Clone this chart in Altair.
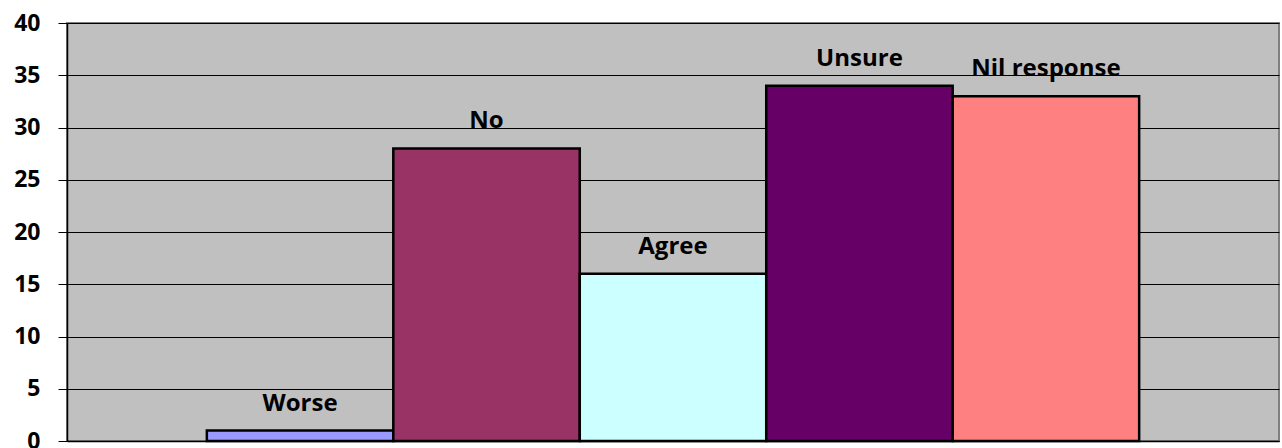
import altair as alt
import pandas as pd

categories = ["Worse", "No", "Agree", "Unsure", "Nil response"]
values = [1, 28, 16, 34, 33]
colors = ["#9999FF", "#993366", "#CCFFFF", "#660066", "#FF8080"]
y_ticks = [0, 5, 10, 15, 20, 25, 30, 35, 40]

df = pd.DataFrame({"cat": categories, "val": values})

FONT = "Open Sans"

x = alt.X("cat:N", sort=categories,
          scale=alt.Scale(paddingInner=0, paddingOuter=0.75),
          axis=alt.Axis(labels=False, ticks=False, title=None, domain=True,
                        domainColor="#000000", domainWidth=1.5, grid=False))
y = alt.Y("val:Q", scale=alt.Scale(domain=[0, 40], nice=False),
          axis=alt.Axis(values=y_ticks, title=None, grid=True, gridColor="#000000",
                        gridWidth=1, gridOpacity=1, domain=True, domainColor="#000000",
                        domainWidth=1.5, ticks=True, tickSize=9, tickColor="#000000",
                        tickWidth=1, labelPadding=18, labelFont=FONT, labelFontSize=23,
                        labelFontWeight="bold", labelColor="#000000"))

bars = alt.Chart(df).mark_bar(stroke="#000000", strokeWidth=2.5).encode(
    x=x, y=y,
    color=alt.Color("cat:N", scale=alt.Scale(domain=categories, range=colors), legend=None),
)

labels = alt.Chart(df).mark_text(font=FONT, fontSize=24, fontWeight="bold",
                                 baseline="alphabetic", dy=-20, color="#000000").encode(
    x=alt.X("cat:N", sort=categories), y=alt.Y("val:Q"), text="cat:N"
)

chart = (bars + labels).properties(
    width=1212, height=418,
    autosize=alt.AutoSizeParams(type="none"),
    padding={"left": 67, "top": 23, "right": 3, "bottom": 7},
    background="#FFFFFF",
).configure_view(fill="#C0C0C0", stroke="#808080", strokeWidth=2)

chart.save("out.html", embed_options={"renderer": "svg", "actions": False})
